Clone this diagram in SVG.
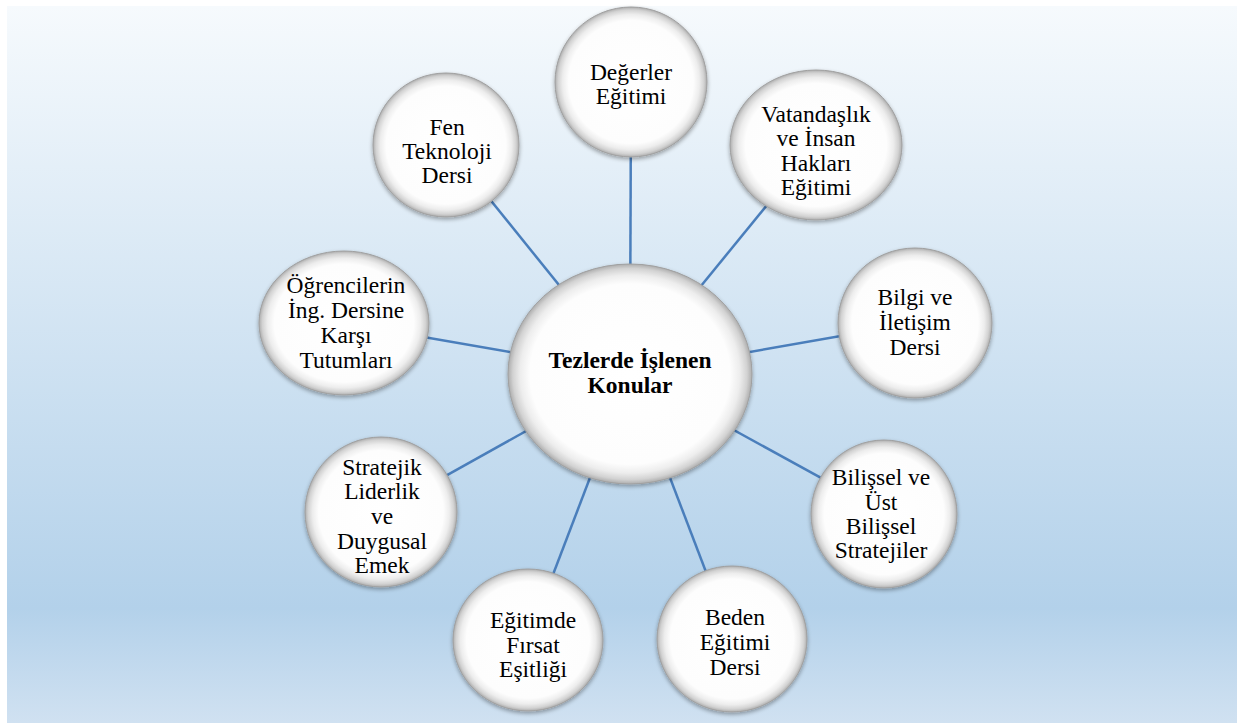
<svg xmlns="http://www.w3.org/2000/svg" width="1237" height="724" viewBox="0 0 1237 724">
<defs>
<linearGradient id="bg" x1="0" y1="0" x2="0" y2="1">
<stop offset="0" stop-color="#F6FAFD"/>
<stop offset="0.84" stop-color="#B3D1EA"/>
<stop offset="1" stop-color="#D0E1F1"/>
</linearGradient>
<radialGradient id="ball" cx="0.5" cy="0.5" r="0.5">
<stop offset="0" stop-color="#FFFFFF"/>
<stop offset="0.82" stop-color="#FDFDFD"/>
<stop offset="0.9" stop-color="#EDEDED"/>
<stop offset="0.96" stop-color="#D2D2D2"/>
<stop offset="1" stop-color="#ADADAD"/>
</radialGradient>
<filter id="sh" x="-20%" y="-20%" width="140%" height="140%">
<feGaussianBlur in="SourceAlpha" stdDeviation="2"/>
<feOffset dy="2" result="b"/>
<feComponentTransfer><feFuncA type="linear" slope="0.35"/></feComponentTransfer>
<feMerge><feMergeNode/><feMergeNode in="SourceGraphic"/></feMerge>
</filter>
</defs>
<style>
.node ellipse{fill:url(#ball);stroke:#A0A0A0;stroke-width:1;filter:url(#sh)}
.t{font-family:"Liberation Serif","Times New Roman",serif;font-size:23.5px;fill:#000;text-anchor:middle}
.tb{font-weight:bold;font-size:23.5px}
.conn line{stroke:#4A7EBB;stroke-width:2.5}
</style>
<rect x="0" y="0" width="1237" height="724" fill="#FFFFFF"/>
<rect x="7" y="6" width="1230" height="717" fill="url(#bg)"/>
<g id="connectors" class="conn">
<line x1="630" y1="373" x2="631" y2="82"/>
<line x1="630" y1="373" x2="816" y2="145"/>
<line x1="630" y1="373" x2="915" y2="323"/>
<line x1="630" y1="373" x2="885" y2="513"/>
<line x1="630" y1="373" x2="732" y2="640"/>
<line x1="630" y1="373" x2="528" y2="640"/>
<line x1="630" y1="373" x2="381" y2="512"/>
<line x1="630" y1="373" x2="343" y2="323"/>
<line x1="630" y1="373" x2="446" y2="145"/>
</g>
<g id="n-degerler" class="node">
<ellipse cx="631" cy="82" rx="76" ry="75"/>
<text class="t" x="631" y="80">Değerler</text>
<text class="t" x="631" y="104">Eğitimi</text>
</g>
<g id="n-vatandaslik" class="node">
<ellipse cx="816" cy="145" rx="86" ry="75"/>
<text class="t" x="816" y="122">Vatandaşlık</text>
<text class="t" x="816" y="146">ve İnsan</text>
<text class="t" x="816" y="171">Hakları</text>
<text class="t" x="816" y="195">Eğitimi</text>
</g>
<g id="n-bilgi" class="node">
<ellipse cx="915" cy="323" rx="77" ry="75"/>
<text class="t" x="915" y="305">Bilgi ve</text>
<text class="t" x="915" y="330">İletişim</text>
<text class="t" x="915" y="355">Dersi</text>
</g>
<g id="n-bilissel" class="node">
<ellipse cx="884" cy="514" rx="73" ry="74"/>
<text class="t" x="881" y="485">Bilişsel ve</text>
<text class="t" x="881" y="510">Üst</text>
<text class="t" x="881" y="534">Bilişsel</text>
<text class="t" x="881" y="558">Stratejiler</text>
</g>
<g id="n-beden" class="node">
<ellipse cx="732" cy="639" rx="75" ry="73"/>
<text class="t" x="735" y="625">Beden</text>
<text class="t" x="735" y="650">Eğitimi</text>
<text class="t" x="735" y="675">Dersi</text>
</g>
<g id="n-firsat" class="node">
<ellipse cx="528" cy="640" rx="75" ry="71"/>
<text class="t" x="533" y="628">Eğitimde</text>
<text class="t" x="533" y="653">Fırsat</text>
<text class="t" x="533" y="677">Eşitliği</text>
</g>
<g id="n-stratejik" class="node">
<ellipse cx="381" cy="512" rx="76" ry="75"/>
<text class="t" x="382" y="475">Stratejik</text>
<text class="t" x="382" y="499">Liderlik</text>
<text class="t" x="382" y="524">ve</text>
<text class="t" x="382" y="549">Duygusal</text>
<text class="t" x="382" y="573">Emek</text>
</g>
<g id="n-ogrenciler" class="node">
<ellipse cx="344" cy="323" rx="85" ry="72"/>
<text class="t" x="346" y="293">Öğrencilerin</text>
<text class="t" x="346" y="318">İng. Dersine</text>
<text class="t" x="346" y="343">Karşı</text>
<text class="t" x="346" y="368">Tutumları</text>
</g>
<g id="n-fen" class="node">
<ellipse cx="446" cy="145" rx="73" ry="72"/>
<text class="t" x="447" y="135">Fen</text>
<text class="t" x="447" y="159">Teknoloji</text>
<text class="t" x="447" y="183">Dersi</text>
</g>
<g id="n-center" class="node">
<ellipse cx="630" cy="374" rx="122" ry="110"/>
<text class="t tb" x="630" y="368">Tezlerde İşlenen</text>
<text class="t tb" x="630" y="393">Konular</text>
</g>
</svg>
